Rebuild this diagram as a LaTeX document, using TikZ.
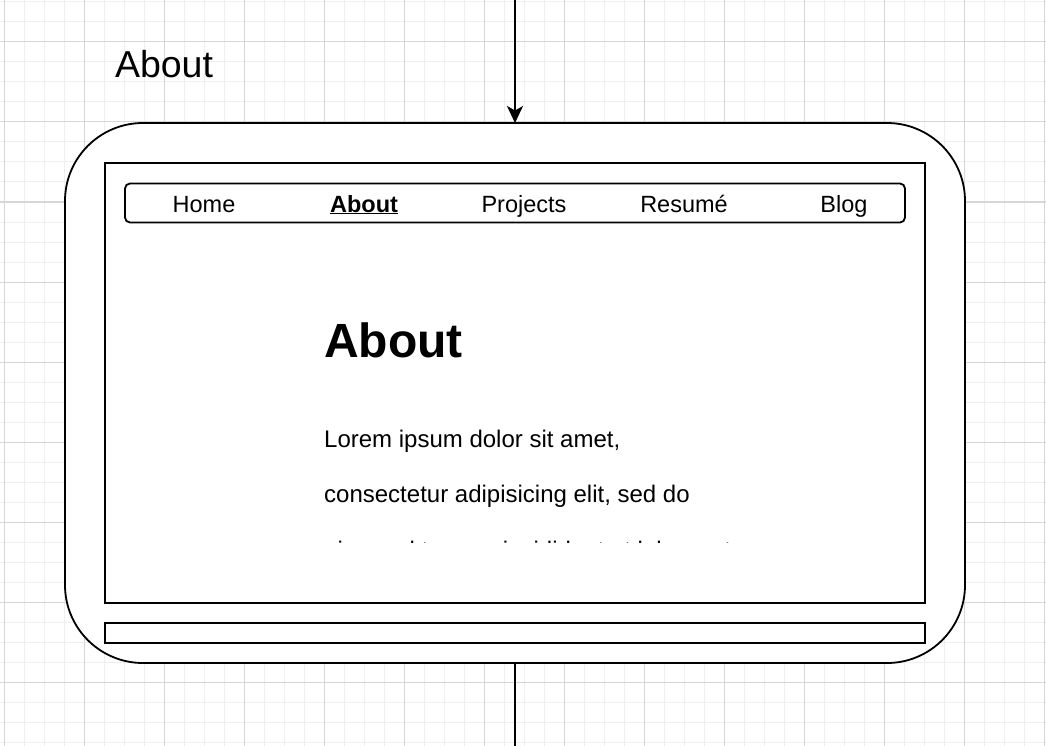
\documentclass[tikz,border=0pt]{standalone}
\usepackage{fontspec}
\setmainfont{Liberation Sans}
\usetikzlibrary{arrows.meta}
\definecolor{gridminor}{HTML}{EFEFEF}
\definecolor{gridmajor}{HTML}{D6D6D6}
\tikzset{
  minorline/.style={gridminor, line width=1pt},
  majorline/.style={gridmajor, line width=1pt},
  frame/.style={draw=black, fill=white, line width=1.8pt, inner sep=0pt, outer sep=0pt},
  conn/.style={draw=black, line width=1.8pt},
  navtext/.style={inner sep=0pt, anchor=base, font=\fontsize{23.5}{28}\selectfont},
  bodytext/.style={inner sep=0pt, anchor=base west, font=\fontsize{24}{28}\selectfont},
}
\begin{document}
\begin{tikzpicture}[x=1pt, y=-1pt]
  \useasboundingbox (0,0) rectangle (1046,746);
  \fill[white] (0,0) rectangle (1046,746);
  % background grid: fine lines every 20, strong lines every 80
  \foreach \x in {4,24,...,1044} \draw[minorline] (\x,0) -- (\x,746);
  \foreach \y in {2,22,...,742} \draw[minorline] (0,\y) -- (1046,\y);
  \foreach \x in {4,84,...,1044} \draw[majorline] (\x,0) -- (\x,746);
  \foreach \y in {42,122,...,742} \draw[majorline] (0,\y) -- (1046,\y);

  % page title
  \node[inner sep=0pt, anchor=base, font=\fontsize{37.5}{40}\selectfont] (title) at (164,78) {About};

  % device outline, screen and bottom bar
  \node[frame, rounded corners=78pt, minimum width=900pt, minimum height=540pt] (device) at (515,393) {};
  \node[frame, minimum width=820pt, minimum height=440pt] (screen) at (515,383) {};
  \node[frame, minimum width=820pt, minimum height=20pt] (bar) at (515,633) {};

  % navigation bar
  \node[frame, rounded corners=5pt, minimum width=780pt, minimum height=39pt] (nav) at (515,203) {};
  \node[navtext] (navhome) at (204,212) {Home};
  \node[navtext] (navabout) at (364,212) {\underline{\textbf{About}}};
  \node[navtext] (navprojects) at (524,212) {Projects};
  \node[navtext] (navresume) at (684,212) {Resumé};
  \node[navtext] (navblog) at (844,212) {Blog};

  % page content
  \node[inner sep=0pt, anchor=base west, font=\fontsize{48}{52}\bfseries\selectfont] (heading) at (324,357) {About};
  \node[bodytext] (line1) at (324,447) {Lorem ipsum dolor sit amet,};
  \node[bodytext] (line2) at (324,502.5) {consectetur adipisicing elit, sed do};
  \begin{scope}
    \clip (320,530) rectangle (760,542.2);
    \node[bodytext] (line3) at (324,558) {eiusmod tempor incididunt ut labore et};
  \end{scope}

  % connectors
  \coordinate (topend) at (515,0);
  \coordinate (bottomend) at (515,746);
  \draw[conn, -{Stealth[length=17pt, width=16pt, inset=4.5pt]}] (topend) -- (device.north);
  \draw[conn] (device.south) -- (bottomend);
\end{tikzpicture}
\end{document}
